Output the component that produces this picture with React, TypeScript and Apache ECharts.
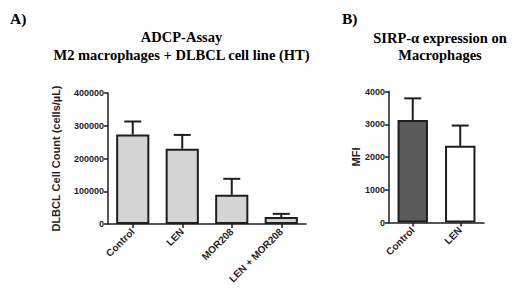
import React, { useEffect, useRef } from "react";
import * as echarts from "echarts";

const categoriesA = ["Control", "LEN", "MOR208", "LEN + MOR208"];
const meansA = [273000, 230000, 89000, 21000];
const upperA = [313000, 272000, 138000, 31000];
const ticksA = { min: 0, max: 400000, interval: 100000 };

const categoriesB = ["Control", "LEN"];
const meansB = [3130, 2340];
const upperB = [3790, 2960];
const ticksB = { min: 0, max: 4000, interval: 1000 };
const colorsB = ["#5b5b5b", "#ffffff"];

const INK = "#1e1e1e";
const SANS = "'Liberation Sans', Arial, sans-serif";
const SERIF = "'Liberation Serif', 'Times New Roman', serif";

function errorSeries(name: string, xi: number, yi: number, means: number[], upper: number[]) {
  return {
    type: "custom",
    name,
    xAxisIndex: xi,
    yAxisIndex: yi,
    z: 1,
    data: means.map((m, i) => [i, m, upper[i]]),
    renderItem: (params: any, api: any) => {
      const i = api.value(0);
      const a = api.coord([i, api.value(1)]);
      const b = api.coord([i, api.value(2)]);
      const hw = 8.5;
      const style = { stroke: INK, lineWidth: 2 };
      return {
        type: "group",
        children: [
          { type: "line", shape: { x1: a[0], y1: a[1], x2: b[0], y2: b[1] }, style },
          { type: "line", shape: { x1: b[0] - hw, y1: b[1], x2: b[0] + hw, y2: b[1] }, style },
        ],
      };
    },
  };
}

function xAxisCfg(cats: string[], gridIndex: number) {
  return {
    type: "category",
    gridIndex,
    data: cats,
    axisLine: { show: true, lineStyle: { color: INK, width: 1.5 } },
    axisTick: { show: true, alignWithLabel: true, length: 4, lineStyle: { color: INK, width: 1.5 } },
    axisLabel: {
      rotate: 45,
      margin: 6,
      fontFamily: SANS,
      fontWeight: "bold",
      fontSize: 10,
      color: INK,
      interval: 0,
    },
  };
}

function yAxisCfg(t: { min: number; max: number; interval: number }, gridIndex: number, name: string, nameGap: number) {
  return {
    type: "value",
    gridIndex,
    min: t.min,
    max: t.max,
    interval: t.interval,
    name,
    nameLocation: "middle",
    nameRotate: 90,
    nameGap,
    nameTextStyle: { fontFamily: SANS, fontWeight: "bold", fontSize: 11, color: INK },
    splitLine: { show: false },
    axisLine: { show: true, lineStyle: { color: INK, width: 1.5 } },
    axisTick: { show: true, length: 4, lineStyle: { color: INK, width: 1.5 } },
    axisLabel: {
      fontFamily: SANS,
      fontWeight: "bold",
      fontSize: 9,
      color: INK,
      margin: 4,
      formatter: (v: number) => String(v),
    },
  };
}

export default function App() {
  const ref = useRef<HTMLDivElement>(null);
  useEffect(() => {
    if (!ref.current) return;
    const chart = echarts.init(ref.current, undefined, { renderer: "svg" });
    const titleFont = `bold 14.5px ${SERIF}`;
    chart.setOption({
      animation: false,
      backgroundColor: "#ffffff",
      grid: [
        { left: 108, right: 214, top: 93, bottom: 71 },
        { left: 389, right: 36, top: 91.5, bottom: 72.5 },
      ],
      xAxis: [xAxisCfg(categoriesA, 0), xAxisCfg(categoriesB, 1)],
      yAxis: [
        yAxisCfg(ticksA, 0, "DLBCL Cell Count (cells/µL)", 47),
        yAxisCfg(ticksB, 1, "MFI", 28),
      ],
      series: [
        {
          type: "bar",
          xAxisIndex: 0,
          yAxisIndex: 0,
          barWidth: "67%",
          z: 2,
          data: meansA,
          itemStyle: { color: "#d4d4d4", borderColor: INK, borderWidth: 2 },
        },
        errorSeries("errA", 0, 0, meansA, upperA),
        {
          type: "bar",
          xAxisIndex: 1,
          yAxisIndex: 1,
          barWidth: "64%",
          z: 2,
          data: meansB.map((v, i) => ({ value: v, itemStyle: { color: colorsB[i] } })),
          itemStyle: { borderColor: INK, borderWidth: 2 },
        },
        errorSeries("errB", 1, 1, meansB, upperB),
      ],
      graphic: [
        {
          type: "text",
          x: 10,
          y: 18,
          style: { text: "A)", font: `bold 15.5px ${SERIF}`, fill: "#000", verticalAlign: "middle" },
        },
        {
          type: "text",
          x: 342,
          y: 18,
          style: { text: "B)", font: `bold 15.5px ${SERIF}`, fill: "#000", verticalAlign: "middle" },
        },
        {
          type: "text",
          x: 181.5,
          y: 36.5,
          style: { text: "ADCP-Assay", font: titleFont, fill: "#000", align: "center", verticalAlign: "middle" },
        },
        {
          type: "text",
          x: 181.5,
          y: 55,
          style: {
            text: "M2 macrophages + DLBCL cell line (HT)",
            font: titleFont,
            fill: "#000",
            align: "center",
            verticalAlign: "middle",
          },
        },
        {
          type: "text",
          x: 440,
          y: 37.5,
          style: { text: "SIRP-α expression on", font: titleFont, fill: "#000", align: "center", verticalAlign: "middle" },
        },
        {
          type: "text",
          x: 440,
          y: 54.5,
          style: { text: "Macrophages", font: titleFont, fill: "#000", align: "center", verticalAlign: "middle" },
        },
      ],
    });
    return () => chart.dispose();
  }, []);
  return <div ref={ref} style={{ position: "fixed", left: 0, top: 0, width: 520, height: 295 }} />;
}
